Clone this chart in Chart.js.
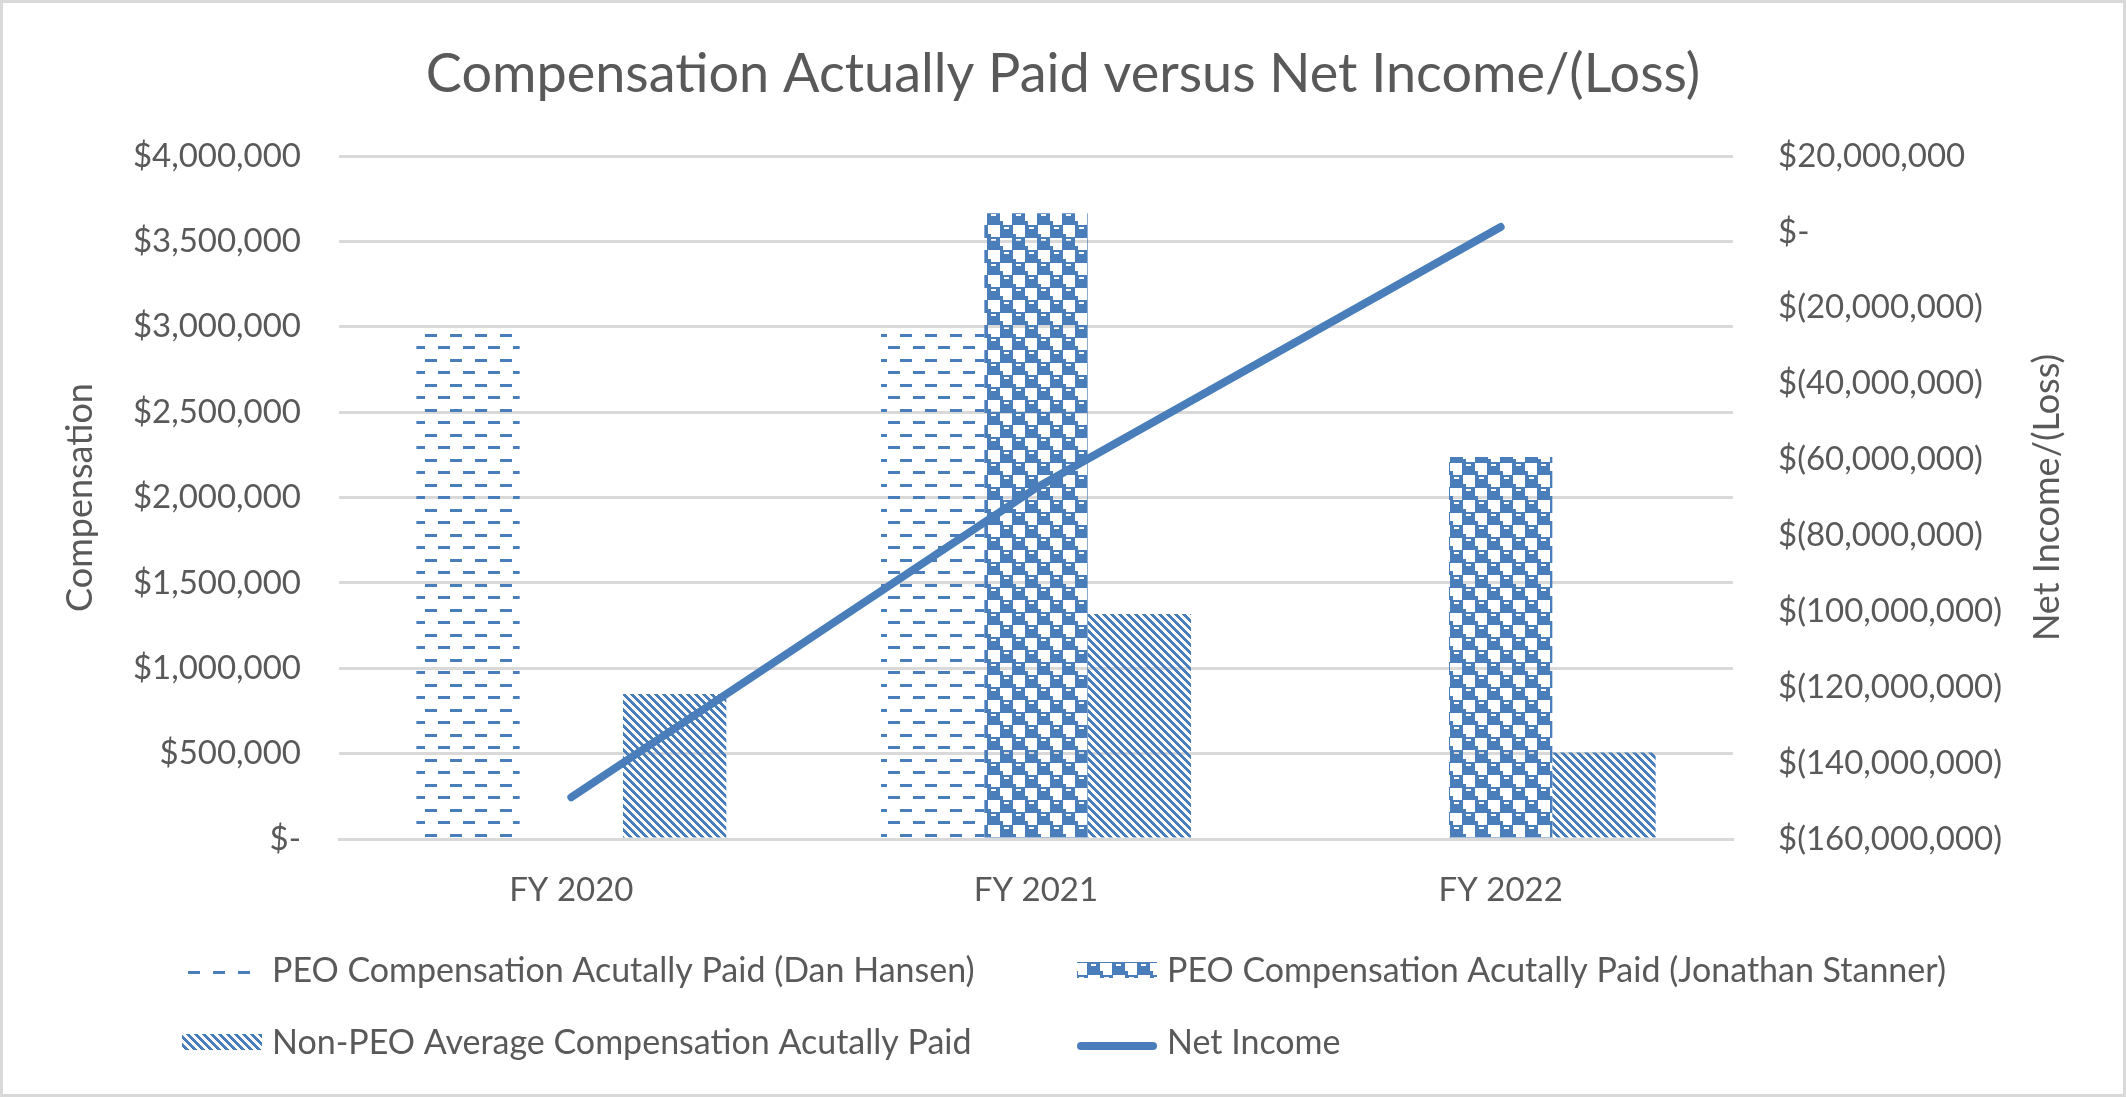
<!DOCTYPE html>
<html>
<head>
<meta charset="utf-8">
<title>Compensation Actually Paid versus Net Income/(Loss)</title>
<script src="https://cdn.jsdelivr.net/npm/chart.js@4.4.1/dist/chart.umd.min.js"></script>
<style>
  html, body { margin: 0; padding: 0; background: #ffffff; }
  canvas { display: block; background: #ffffff; }
</style>
</head>
<body>
<canvas id="chart" width="2126" height="1097"></canvas>
<script>
// data
const categories = ["FY 2020", "FY 2021", "FY 2022"];
const danHansen = [2965000, 2960000, null];
const jonathanStanner = [null, 3665000, 2237000];
const nonPeoAverage = [849000, 1318000, 507000];
const netIncome = [-149000000, -67500000, 1300000];

// legend order as in the reference (left to right, top to bottom)
const seriesNames = [
    "PEO Compensation Acutally Paid (Dan Hansen)",
    "PEO Compensation Acutally Paid (Jonathan Stanner)",
    "Non-PEO Average Compensation Acutally Paid",
    "Net Income"
];

const chartTitle = "Compensation Actually Paid versus Net Income/(Loss)";
const leftTitle = "Compensation";
const rightTitle = "Net Income/(Loss)";

const BLUE = "#4a7ebb";
const TEXT = "#595959";
const GRID = "#d9d9d9";
const FONT = "Lato, 'Open Sans', sans-serif";

// patterns for the bars
function makeTile(w, h, draw) {
    const c = document.createElement("canvas");
    c.width = w;
    c.height = h;
    const g = c.getContext("2d");
    g.fillStyle = BLUE;
    draw(g);
    return document.createElement("canvas").getContext("2d").createPattern(c, "repeat");
}

// dashed horizontal
const dashPattern = makeTile(25, 25, g => {
    g.fillRect(0, 9, 12, 3);
    g.fillRect(13, 21, 12, 3);
});

// checker with little marks
const checkPattern = makeTile(25, 25, g => {
    g.fillRect(0, 0, 13, 13);
    g.fillRect(12, 12, 13, 13);
    g.fillRect(13, 9, 3, 4);
    g.fillRect(0, 21, 3, 4);
    g.clearRect(4, 2, 5, 2);
    g.clearRect(16, 14, 5, 2);
});

// downward diagonal stripes
const diagPattern = makeTile(8, 8, g => {
    for (let y = 0; y < 8; y++) {
        for (let x = 0; x < 8; x++) {
            if (((x - y) % 8 + 8) % 8 < 4) g.fillRect(x, y, 1, 1);
        }
    }
});

function leftLabel(v) {
    if (v === 0) return "$-";
    return "$" + v.toLocaleString("en-US");
}

function rightLabel(v) {
    if (v === 0) return "$-";
    if (v < 0) return "$(" + Math.abs(v).toLocaleString("en-US") + ")";
    return "$" + v.toLocaleString("en-US");
}

// title, axis titles, legend and frame drawn by hand
const decorations = {
    id: "decorations",
    afterDraw(chart) {
        const ctx = chart.ctx;
        const area = chart.chartArea;
        ctx.save();

        ctx.strokeStyle = GRID;
        ctx.lineWidth = 3;
        ctx.strokeRect(1.5, 1.5, chart.width - 3, chart.height - 3);

        ctx.fillStyle = TEXT;
        ctx.textAlign = "center";
        ctx.textBaseline = "middle";
        ctx.font = "54px " + FONT;
        ctx.fillText(chartTitle, chart.width / 2, 75);

        const midY = (area.top + area.bottom) / 2;
        ctx.font = "36px " + FONT;
        ctx.save();
        ctx.translate(80, midY);
        ctx.rotate(-Math.PI / 2);
        ctx.fillText(leftTitle, 0, 0);
        ctx.restore();
        ctx.save();
        ctx.translate(2047, midY);
        ctx.rotate(-Math.PI / 2);
        ctx.fillText(rightTitle, 0, 0);
        ctx.restore();

        // legend, two columns
        const slots = [[182, 970], [1077, 970], [182, 1042], [1077, 1042]];
        ctx.font = "34px " + FONT;
        ctx.textAlign = "left";
        seriesNames.forEach((name, i) => {
            const ds = chart.data.datasets.find(d => d.label === name);
            const [x, y] = slots[i];
            if (ds.type === "line") {
                ctx.strokeStyle = ds.borderColor;
                ctx.lineWidth = 8;
                ctx.lineCap = "round";
                ctx.beginPath();
                ctx.moveTo(x + 4, y + 4);
                ctx.lineTo(x + 76, y + 4);
                ctx.stroke();
            } else {
                ctx.fillStyle = ds.backgroundColor;
                ctx.fillRect(x, y - 8, 80, 16);
            }
            ctx.fillStyle = TEXT;
            ctx.fillText(ds.label, x + 90, y + 1);
        });

        ctx.restore();
    }
};

new Chart(document.getElementById("chart"), {
    type: "bar",
    data: {
        labels: categories,
        datasets: [
            {
                type: "line",
                label: seriesNames[3],
                data: netIncome,
                yAxisID: "y1",
                borderColor: BLUE,
                backgroundColor: BLUE,
                borderWidth: 8,
                borderCapStyle: "round",
                borderJoinStyle: "round",
                pointRadius: 0,
                fill: false,
                tension: 0,
                order: 0
            },
            { label: seriesNames[0], data: danHansen, backgroundColor: dashPattern, yAxisID: "y", order: 1 },
            { label: seriesNames[1], data: jonathanStanner, backgroundColor: checkPattern, yAxisID: "y", order: 1 },
            { label: seriesNames[2], data: nonPeoAverage, backgroundColor: diagPattern, yAxisID: "y", order: 1 }
        ]
    },
    options: {
        responsive: false,
        animation: false,
        devicePixelRatio: 1,
        layout: { padding: { top: 156, left: 0, right: 0, bottom: 158 } },
        datasets: {
            bar: { categoryPercentage: 0.667, barPercentage: 1, borderWidth: 0 }
        },
        plugins: {
            legend: { display: false },
            title: { display: false },
            tooltip: { enabled: false }
        },
        scales: {
            x: {
                grid: { display: false, drawTicks: false },
                border: { display: true, color: GRID, width: 3 },
                ticks: { color: TEXT, font: { family: FONT, size: 33 }, padding: 32 },
                afterFit(scale) { scale.height = 100; }
            },
            y: {
                position: "left",
                min: 0,
                max: 4000000,
                grid: { color: GRID, lineWidth: 3, drawTicks: false },
                border: { display: false },
                ticks: {
                    stepSize: 500000,
                    color: TEXT,
                    font: { family: FONT, size: 33 },
                    padding: 38,
                    callback: v => leftLabel(v)
                },
                afterFit(scale) { scale.width = 339; }
            },
            y1: {
                position: "right",
                min: -160000000,
                max: 20000000,
                grid: { display: false, drawTicks: false },
                border: { display: false },
                ticks: {
                    stepSize: 20000000,
                    color: TEXT,
                    font: { family: FONT, size: 33 },
                    padding: 45,
                    callback: v => rightLabel(v)
                },
                afterFit(scale) { scale.width = 393; }
            }
        }
    },
    plugins: [decorations]
});
</script>
</body>
</html>
